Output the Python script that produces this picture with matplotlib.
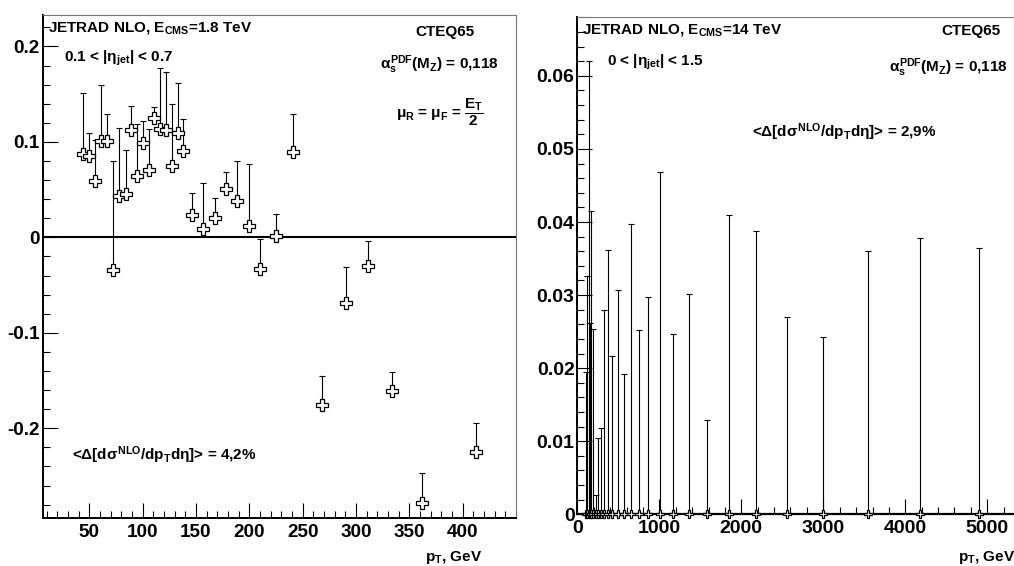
import numpy as np
import matplotlib
matplotlib.use('Agg')
import matplotlib.pyplot as plt
from matplotlib.ticker import MultipleLocator

plt.rcParams['font.family'] = ['Liberation Sans', 'DejaVu Sans']
plt.rcParams['font.weight'] = 'bold'
plt.rcParams['mathtext.fontset'] = 'custom'
plt.rcParams['mathtext.rm'] = 'Liberation Sans:bold'
plt.rcParams['mathtext.it'] = 'Liberation Sans:bold'
plt.rcParams['mathtext.bf'] = 'Liberation Sans:bold'
plt.rcParams['mathtext.sf'] = 'Liberation Sans:bold'

# --- 1.8 TeV, 0.1 < |eta| < 0.7
pt_tev = [43.8, 49.4, 55.3, 61.0, 66.9, 72.5, 78.1, 84.1, 89.4, 94.7, 100.0,
          105.7, 110.9, 116.6, 121.9, 127.2, 132.9, 137.5, 146.3, 156.9, 167.5,
          178.2, 188.2, 199.7, 210.0, 225.3, 241.2, 268.4, 290.3, 311.6, 333.5,
          362.2, 412.5]
delta_tev = [0.087, 0.085, 0.059, 0.101, 0.101, -0.034, 0.043, 0.045, 0.112,
             0.064, 0.099, 0.071, 0.125, 0.114, 0.112, 0.075, 0.109, 0.091,
             0.023, 0.009, 0.020, 0.051, 0.038, 0.012, -0.033, 0.001, 0.089,
             -0.176, -0.069, -0.030, -0.161, -0.278, -0.225]
err_tev = [0.064, 0.024, 0.043, 0.059, 0.028, 0.114, 0.072, 0.047, 0.026,
           0.055, 0.023, 0.043, 0.012, 0.063, 0.061, 0.065, 0.053, 0.033,
           0.024, 0.048, 0.021, 0.018, 0.042, 0.065, 0.031, 0.024, 0.040,
           0.031, 0.038, 0.026, 0.020, 0.031, 0.031]

# --- 14 TeV, 0 < |eta| < 1.5
pt_lhc = [110, 122, 143, 155, 167, 195, 228, 256, 289, 322, 371, 419, 500,
          570, 655, 756, 866, 1012, 1171, 1362, 1582, 1854, 2176, 2554, 3000,
          3541, 4176, 4902]
delta_lhc = [0.0] * len(pt_lhc)
err_lhc = [0.0195, 0.0326, 0.0621, 0.0262, 0.0415, 0.0253, 0.0026, 0.0105,
           0.0118, 0.0280, 0.0362, 0.0216, 0.0307, 0.0192, 0.0397, 0.0252,
           0.0297, 0.0469, 0.0247, 0.0301, 0.0129, 0.0410, 0.0388, 0.0270,
           0.0243, 0.0360, 0.0378, 0.0364]

W, H = 1014, 566
fig = plt.figure(figsize=(W / 100, H / 100), dpi=100)


def fx(px):
    return px / W


def fy(py):
    return 1 - py / H


def style_axes(ax, lsize):
    ax.tick_params(which='both', direction='in', top=False, right=False,
                   labelsize=lsize, width=0.8)
    ax.tick_params(which='major', length=10.5)
    ax.tick_params(which='minor', length=5.3)
    ax.tick_params(axis='y', pad=2)
    ax.tick_params(axis='x', pad=4)
    for s in ['left', 'bottom']:
        ax.spines[s].set_linewidth(1.4)
    for s in ['top', 'right']:
        ax.spines[s].set_linewidth(0.8)
        ax.spines[s].set_color('#777777')


def draw_points(ax, x, y, err, ms):
    x = np.array(x)
    y = np.array(y)
    top = y + np.array(err)
    ax.vlines(x, y, top, color='black', lw=0.8, zorder=2)
    ax.plot(x, top, ls='none', marker='_', ms=4, mew=0.8, color='black', zorder=2)
    ax.plot(x, y, ls='none', marker='P', ms=ms, mfc='white', mec='black',
            mew=0.9, zorder=3, clip_on=False)


# left panel
ax1 = fig.add_axes([fx(42.7), fy(518), fx(516 - 42.7), (518 - 15) / H])
ax1.set_xlim(6.3, 450)
ax1.set_ylim(-0.294, 0.233)
ax1.axhline(0, color='black', lw=1.5, zorder=1)
draw_points(ax1, pt_tev, delta_tev, err_tev, 8)
ax1.xaxis.set_major_locator(MultipleLocator(50))
ax1.xaxis.set_minor_locator(MultipleLocator(10))
ax1.yaxis.set_major_locator(MultipleLocator(0.1))
ax1.yaxis.set_minor_locator(MultipleLocator(0.02))
ax1.set_yticks([-0.2, -0.1, 0, 0.1, 0.2])
ax1.set_yticklabels(['-0.2', '-0.1', '0', '0.1', '0.2'])
ax1.set_xticks([50, 100, 150, 200, 250, 300, 350, 400])
style_axes(ax1, 13.6)

fs = 11
fig.text(fx(48), fy(28), r'JETRAD NLO, E$_{\rm CMS}$=1.8 TeV', fontsize=fs, ha='left', va='center')
fig.text(fx(64), fy(58), r'0.1 < |$\eta_{\rm jet}$| < 0.7', fontsize=fs, ha='left', va='center')
fig.text(fx(474), fy(32), 'CTEQ65', fontsize=fs, ha='right', va='center')
fig.text(fx(499), fy(65), r'$\alpha_{\rm s}^{\rm PDF}$(M$_{\rm Z}$) = 0,118', fontsize=fs, ha='right', va='center')
fig.text(fx(484), fy(112), r'$\mu_{\rm R}$ = $\mu_{\rm F}$ = $\dfrac{\rm E_T}{\rm 2}$', fontsize=fs, ha='right', va='center')
fig.text(fx(72), fy(455), r'<$\Delta$[d$\sigma^{\rm NLO}$/dp$_{\rm T}$d$\eta$]> = 4,2%', fontsize=fs, ha='left', va='center')
fig.text(fx(482), fy(557), r'p$_{\rm T}$, GeV', fontsize=fs, ha='right', va='center')

# right panel (extends past the figure edge)
ax2 = fig.add_axes([fx(577.3), fy(514.3), fx(5500 * 0.082), (514.3 - 16.7) / H])
ax2.set_xlim(0, 5500)
ax2.set_ylim(0, 0.0681)
draw_points(ax2, pt_lhc, delta_lhc, err_lhc, 6)
ax2.xaxis.set_major_locator(MultipleLocator(1000))
ax2.xaxis.set_minor_locator(MultipleLocator(200))
ax2.yaxis.set_major_locator(MultipleLocator(0.01))
ax2.yaxis.set_minor_locator(MultipleLocator(0.002))
ax2.set_yticks([0, 0.01, 0.02, 0.03, 0.04, 0.05, 0.06])
ax2.set_yticklabels(['0', '0.01', '0.02', '0.03', '0.04', '0.05', '0.06'])
style_axes(ax2, 14)
ax2.spines['bottom'].set_linewidth(1.6)

fig.text(fx(582), fy(30), r'JETRAD NLO, E$_{\rm CMS}$=14 TeV', fontsize=fs, ha='left', va='center')
fig.text(fx(607), fy(62), r'0 < |$\eta_{\rm jet}$| < 1.5', fontsize=fs, ha='left', va='center')
fig.text(fx(1000), fy(31), 'CTEQ65', fontsize=fs, ha='right', va='center')
fig.text(fx(1008), fy(68), r'$\alpha_{\rm s}^{\rm PDF}$(M$_{\rm Z}$) = 0,118', fontsize=fs, ha='right', va='center')
fig.text(fx(752), fy(132), r'<$\Delta$[d$\sigma^{\rm NLO}$/dp$_{\rm T}$d$\eta$]> = 2,9%', fontsize=fs, ha='left', va='center')
fig.text(fx(958), fy(557), r'p$_{\rm T}$, GeV', fontsize=fs, ha='left', va='center')

fig.savefig('out.png', dpi=100)
